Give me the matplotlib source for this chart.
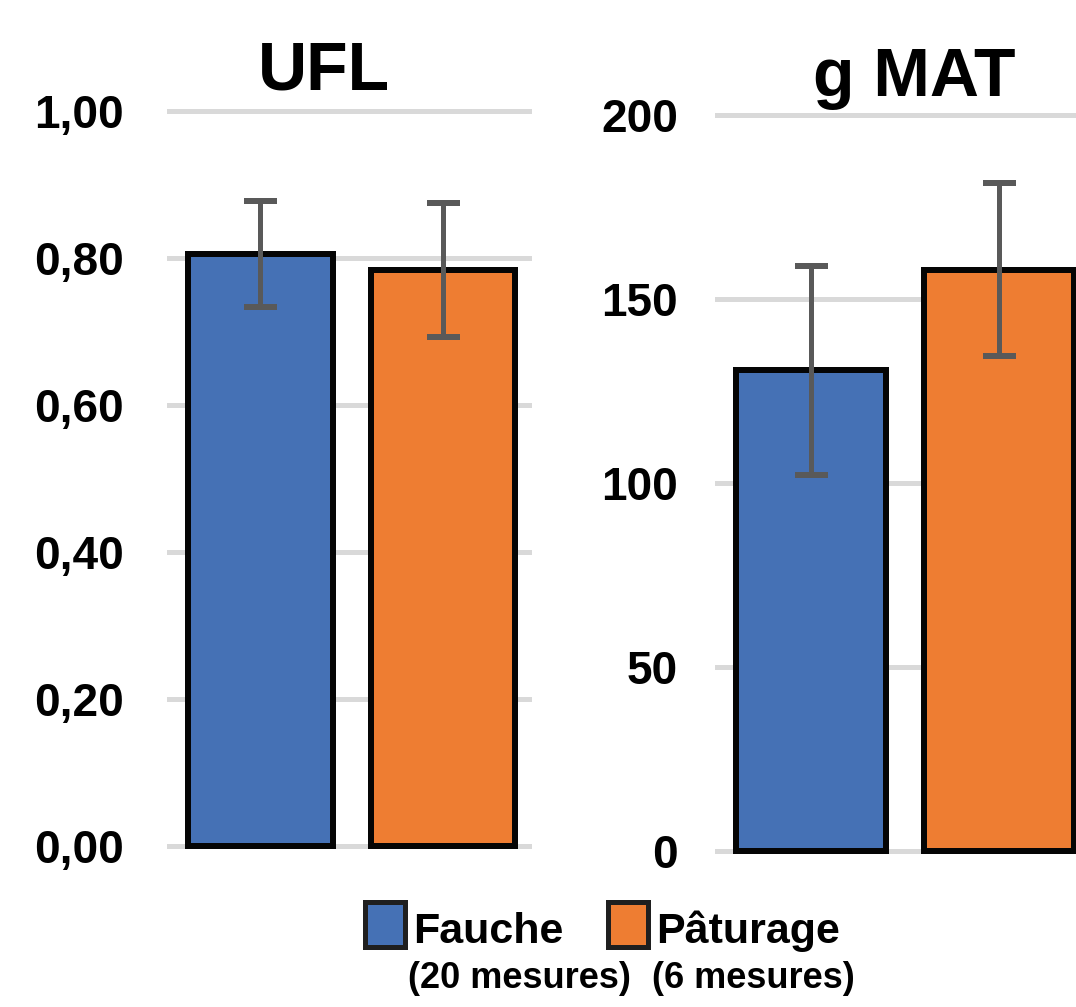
import matplotlib
matplotlib.use("Agg")
import matplotlib.pyplot as plt
from matplotlib.patches import Rectangle

plt.rcParams['font.family'] = ['Liberation Sans', 'DejaVu Sans']
plt.rcParams['font.weight'] = 'bold'

# ---- data ----
groups = ["Fauche", "Pâturage"]
group_notes = ["(20 mesures)", "(6 mesures)"]
colors = ["#4571B5", "#EE7D32"]

ufl_values = [0.805, 0.784]
ufl_errors = [0.072, 0.091]
ufl_ticks = [0.0, 0.2, 0.4, 0.6, 0.8, 1.0]
ufl_ticklabels = ["0,00", "0,20", "0,40", "0,60", "0,80", "1,00"]

mat_values = [130.6, 158.0]
mat_errors = [28.5, 23.4]
mat_ticks = [0, 50, 100, 150, 200]
mat_ticklabels = ["0", "50", "100", "150", "200"]

titles = ["UFL", "g MAT"]

W, H = 1076, 1007
fig = plt.figure(figsize=(W / 100, H / 100), dpi=100)

def px(v):
    return v * 72 / 100  # pixels -> points

def make_axes(rect, values, errors, ticks, ticklabels, xlim, width, ymax, pad):
    ax = fig.add_axes(rect)
    x = list(range(len(values)))
    bars = ax.bar(x, values, width=width, color=colors, edgecolor="#050505",
                  linewidth=px(6), zorder=2)
    for b in bars:
        b.set_clip_on(False)
    eb = ax.errorbar(x, values, yerr=errors, fmt="none", ecolor="#595959",
                     elinewidth=px(5), capsize=px(16.5), capthick=px(6), zorder=3)
    for art in eb.lines[1] + eb.lines[2]:
        art.set_clip_on(False)
    ax.set_xlim(*xlim)
    ax.set_ylim(0, ymax)
    ax.set_yticks(ticks)
    ax.set_yticklabels(ticklabels)
    ax.set_xticks([])
    ax.tick_params(axis="y", length=0, pad=pad, labelsize=33)
    for lab in ax.get_yticklabels():
        lab.set_fontweight("bold")
    for s in ax.spines.values():
        s.set_visible(False)
    ax.set_axisbelow(True)
    ax.yaxis.grid(True, color="#D9D9D9", linewidth=px(5))
    for gl in ax.get_ygridlines():
        gl.set_clip_on(False)
    ax.patch.set_alpha(0)
    return ax

# left axes: x 169..529 px, y 0 at 846 px, 1.00 at 111 px
ax1 = make_axes([169 / W, (H - 846) / H, 360 / W, 735 / H],
                ufl_values, ufl_errors, ufl_ticks, ufl_ticklabels,
                (-0.5, 1.47), 0.79, 1.0, px(45))
# right axes: x 717..1093 px (cropped by figure edge), y 0 at 851, 200 at 115
ax2 = make_axes([717 / W, (H - 851) / H, 376 / W, 736 / H],
                mat_values, mat_errors, mat_ticks, mat_ticklabels,
                (-0.5, 1.5), 0.80, 200, px(39))

# titles
fig.text(324 / W, 1 - 90 / H, titles[0], ha="center", va="baseline",
         fontsize=49, fontweight="bold")
fig.text(914 / W, 1 - 96 / H, titles[1], ha="center", va="baseline",
         fontsize=49, fontweight="bold")

# legend (manual, two-line entries)
leg_patch_x = [362, 605]
leg_text_x = [413, 656]
leg_note_x = [408, 652]
for i in range(len(groups)):
    x0 = leg_patch_x[i]
    fig.add_artist(Rectangle(((x0 + 2.5) / W, 1 - 946.5 / H), 40 / W, 45 / H,
                             transform=fig.transFigure, facecolor=colors[i],
                             edgecolor="#1F1F1F", linewidth=px(5)))
    fig.text(leg_text_x[i] / W, 1 - 943 / H, groups[i], ha="left", va="baseline",
             fontsize=31, fontweight="bold")
    fig.text(leg_note_x[i] / W, 1 - 988 / H, group_notes[i], ha="left",
             va="baseline", fontsize=26, fontweight="bold")

fig.savefig("out.png", dpi=100)
